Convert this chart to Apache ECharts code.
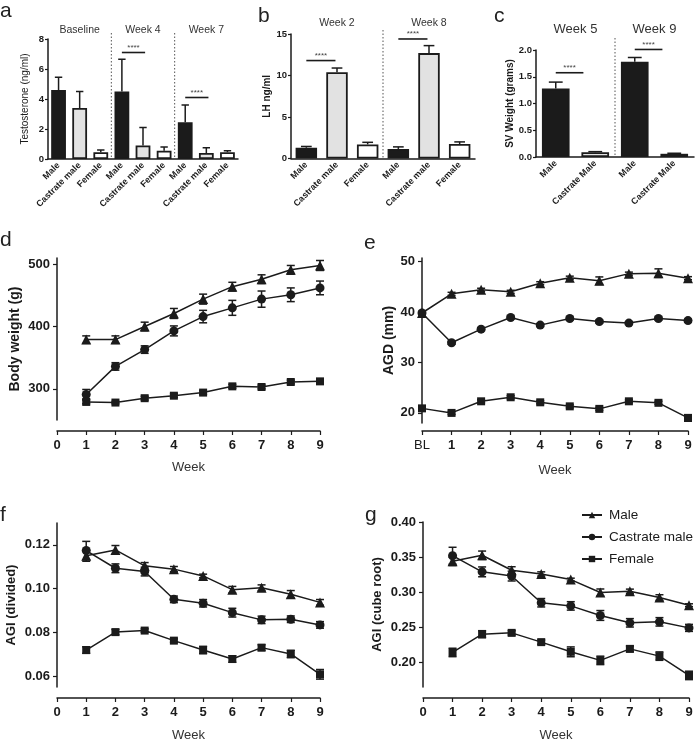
<!DOCTYPE html>
<html lang="en">
  <head>
    <meta charset="UTF-8" />
    <title>Testosterone, LH, SV weight, body weight, AGD and AGI</title>
    <script src="https://cdn.jsdelivr.net/npm/echarts@6/dist/echarts.min.js"></script>
    <style>
      html, body { margin: 0; padding: 0; background: #fff; }
      #chart { width: 700px; height: 745px; }
    </style>
  </head>
  <body>
    <div id="chart"></div>

  <script>
    const FONT = '"Liberation Sans", Arial, sans-serif';
    const INK = '#1b1b1b';

    // a - testosterone
    const testoCats = ['Male', 'Castrate male', 'Female', 'Male', 'Castrate male', 'Female', 'Male', 'Castrate male', 'Female'];
    const testoMean = [4.6, 3.4, 0.45, 4.5, 0.9, 0.55, 2.45, 0.4, 0.45];
    const testoErr = [0.85, 1.1, 0.15, 2.15, 1.2, 0.25, 1.15, 0.35, 0.1];
    const testoGroups = ['Baseline', 'Week 4', 'Week 7'];
    const testoSig = [[3, 7.1, 4], [6, 4.1, 7]];

    // b - LH
    const lhCats = ['Male', 'Castrate male', 'Female', 'Male', 'Castrate male', 'Female'];
    const lhMean = [1.3, 10.4, 1.7, 1.15, 12.7, 1.75];
    const lhErr = [0.15, 0.5, 0.25, 0.25, 0.9, 0.25];
    const lhGroups = ['Week 2', 'Week 8'];
    const lhSig = [[0, 11.8, 1], [3, 14.4, 4]];

    // c - seminal vesicle weight
    const svCats = ['Male', 'Castrate Male', 'Male', 'Castrate Male'];
    const svMean = [1.28, 0.09, 1.78, 0.06];
    const svErr = [0.12, 0.01, 0.08, 0.01];
    const svGroups = ['Week 5', 'Week 9'];
    const svSig = [[0, 1.575, 1], [2, 2.01, 3]];

    // d - body weight
    const weeks = [1, 2, 3, 4, 5, 6, 7, 8, 9];
    const bwMale = [379, 379, 400, 421, 444, 464, 476, 491, 498];
    const bwMaleErr = [6, 6, 7, 8, 8, 7, 7, 7, 8];
    const bwCast = [291, 336, 363, 393, 416, 430, 444, 451, 462];
    const bwCastErr = [8, 6, 6, 8, 10, 12, 13, 11, 11];
    const bwFem = [279, 278, 285, 289, 294, 304, 303, 311, 312];
    const bwFemErr = [3, 2, 3, 3, 3, 3, 3, 3, 3];

    // e - AGD (BL = 0)
    const agdWeeks = [0, 1, 2, 3, 4, 5, 6, 7, 8, 9];
    const agdMale = [39.8, 43.6, 44.4, 44.0, 45.7, 46.8, 46.2, 47.6, 47.7, 46.7];
    const agdMaleErr = [0.3, 0.3, 0.3, 0.3, 0.3, 0.3, 0.75, 0.3, 0.85, 0.3];
    const agdCast = [39.8, 33.9, 36.6, 38.9, 37.4, 38.7, 38.1, 37.8, 38.7, 38.3];
    const agdCastErr = [0.3, 0.3, 0.3, 0.3, 0.3, 0.3, 0.3, 0.3, 0.3, 0.3];
    const agdFem = [20.9, 20.0, 22.3, 23.1, 22.1, 21.3, 20.8, 22.3, 22.0, 19.0];
    const agdFemErr = [0.3, 0.3, 0.3, 0.3, 0.3, 0.3, 0.3, 0.3, 0.3, 0.65];

    // f - AGI divided
    const agiMale = [0.115, 0.1177, 0.1104, 0.1089, 0.1058, 0.0995, 0.1004, 0.0974, 0.0937];
    const agiMaleErr = [0.0025, 0.002, 0.0015, 0.0012, 0.0008, 0.0015, 0.0013, 0.0017, 0.0013];
    const agiCast = [0.1174, 0.1093, 0.1078, 0.0951, 0.0933, 0.089, 0.0857, 0.086, 0.0834];
    const agiCastErr = [0.0042, 0.002, 0.002, 0.0015, 0.0017, 0.002, 0.0017, 0.0015, 0.0015];
    const agiFem = [0.0719, 0.0801, 0.0808, 0.0762, 0.0719, 0.0678, 0.073, 0.0701, 0.0608];
    const agiFemErr = [0.0015, 0.0012, 0.0008, 0.0008, 0.0017, 0.0015, 0.0013, 0.0017, 0.0022];

    // g - AGI cube root
    const cubeMale = [0.344, 0.3526, 0.3313, 0.326, 0.318, 0.2996, 0.3014, 0.2924, 0.2815];
    const cubeMaleErr = [0.006, 0.006, 0.005, 0.003, 0.002, 0.005, 0.003, 0.004, 0.002];
    const cubeCast = [0.352, 0.329, 0.323, 0.285, 0.2805, 0.2669, 0.2564, 0.2578, 0.2492];
    const cubeCastErr = [0.012, 0.007, 0.007, 0.006, 0.006, 0.007, 0.006, 0.006, 0.005];
    const cubeFem = [0.2142, 0.2402, 0.2421, 0.2289, 0.2151, 0.2029, 0.2193, 0.209, 0.1815];
    const cubeFemErr = [0.006, 0.005, 0.003, 0.003, 0.007, 0.006, 0.004, 0.006, 0.006];

    const groupNames = ['Male', 'Castrate male', 'Female'];
    const groupSymbols = ['triangle', 'circle', 'rect'];
    const groupSymbolSize = [10, 9, 8];

    const grids = [], xAxes = [], yAxes = [], series = [];

    function line(x1, y1, x2, y2, extra) {
      return { type: 'line', shape: { x1, y1, x2, y2 }, style: Object.assign({ stroke: INK, lineWidth: 1.5 }, extra || {}) };
    }

    function barPanel(p) {
      const g = grids.length;
      grids.push({ left: p.left, top: p.top, width: p.width, height: p.height });
      xAxes.push({
        gridIndex: g, type: 'category', data: p.cats,
        axisLine: { lineStyle: { color: INK, width: 1.5 } },
        axisTick: { alignWithLabel: true, length: 3, lineStyle: { color: INK, width: 1.2 } },
        axisLabel: { interval: 0, rotate: 45, fontSize: 9, fontWeight: 'bold', color: INK, fontFamily: FONT, margin: 5 }
      });
      yAxes.push({
        gridIndex: g, type: 'value', min: 0, max: p.max, interval: p.step,
        splitLine: { show: false },
        axisLine: { show: true, lineStyle: { color: INK, width: 1.5 } },
        axisTick: { show: true, length: 3, lineStyle: { color: INK, width: 1.2 } },
        axisLabel: { fontSize: 9.5, fontWeight: 'bold', color: INK, fontFamily: FONT, margin: 4, formatter: p.fmt },
        name: p.yName, nameLocation: 'middle', nameGap: p.nameGap,
        nameTextStyle: { fontSize: p.nameSize, fontWeight: p.nameWeight, color: INK, fontFamily: FONT }
      });
      series.push({
        type: 'bar', xAxisIndex: g, yAxisIndex: g, barWidth: '70%', z: 2,
        data: p.mean.map((v, i) => ({ value: v, itemStyle: { color: p.fills[i % p.size] } })),
        itemStyle: { borderColor: INK, borderWidth: 1.8 }
      });
      // upward error bars
      series.push({
        type: 'custom', xAxisIndex: g, yAxisIndex: g, z: 1, clip: false,
        encode: { x: 0, y: 1 },
        data: p.mean.map((v, i) => [i, v, p.err[i]]),
        renderItem: (params, api) => {
          const i = api.value(0), v = api.value(1), e = api.value(2);
          const a = api.coord([i, v]), b = api.coord([i, v + e]);
          const w = api.size([1, 0])[0] * 0.7 * 0.25;
          return { type: 'group', children: [line(a[0], a[1], b[0], b[1]), line(b[0] - w, b[1], b[0] + w, b[1])] };
        }
      });
      // group headers and dotted separators
      series.push({
        type: 'custom', xAxisIndex: g, yAxisIndex: g, z: 3, clip: false,
        encode: { x: 0, y: 1 },
        data: p.groups.map((name, k) => [k * p.size, 0, k]),
        renderItem: (params, api) => {
          const s = api.value(0), k = api.value(2);
          const cs = params.coordSys;
          const x1 = api.coord([s, 0])[0], x2 = api.coord([s + p.size - 1, 0])[0];
          const kids = [{
            type: 'text',
            style: { text: p.groups[k], x: (x1 + x2) / 2, y: cs.y - p.headGap, align: 'center', verticalAlign: 'bottom',
              fontSize: p.headSize, fill: '#333', fontFamily: FONT }
          }];
          if (s > 0) {
            const xp = (api.coord([s - 1, 0])[0] + x1) / 2;
            kids.push(line(xp, cs.y - p.sepExtra, xp, cs.y + cs.height, { stroke: '#555', lineWidth: 1, lineDash: [1.5, 2] }));
          }
          return { type: 'group', children: kids };
        }
      });
      // significance bars
      series.push({
        type: 'custom', xAxisIndex: g, yAxisIndex: g, z: 3, clip: false,
        encode: { x: 0, y: 1 },
        data: p.sig,
        renderItem: (params, api) => {
          const a = api.coord([api.value(0), api.value(1)]);
          const b = api.coord([api.value(2), api.value(1)]);
          const x2 = a[0] + (b[0] - a[0]) * p.sigSpan;
          return { type: 'group', children: [
            line(a[0], a[1], x2, a[1], { lineWidth: 1.6 }),
            { type: 'text', style: { text: '****', x: (a[0] + x2) / 2, y: a[1] - 1, align: 'center', verticalAlign: 'bottom',
              fontSize: 8, fill: '#444', fontFamily: FONT } }
          ] };
        }
      });
    }

    function linePanel(p) {
      const g = grids.length;
      grids.push({ left: p.left, top: p.top, width: p.width, height: p.height });
      xAxes.push({
        gridIndex: g, type: 'value', min: 0, max: 9, interval: 1, offset: p.xOffset,
        splitLine: { show: false },
        axisLine: { show: true, onZero: false, lineStyle: { color: INK, width: 1.5 } },
        axisTick: { show: true, length: 4, lineStyle: { color: INK, width: 1.2 } },
        axisLabel: {
          fontSize: 13, fontWeight: 'bold', color: INK, fontFamily: FONT, margin: 8,
          formatter: p.xFmt || (v => String(v)),
          rich: { n: { fontSize: 13, fontWeight: 'normal', color: INK, fontFamily: FONT } }
        },
        name: 'Week', nameLocation: 'middle', nameGap: p.weekGap,
        nameTextStyle: { fontSize: 13, color: '#333', fontFamily: FONT }
      });
      yAxes.push({
        gridIndex: g, type: 'value', min: p.min, max: p.max,
        splitLine: { show: false },
        axisLine: { show: true, onZero: false, lineStyle: { color: INK, width: 1.5 } },
        axisTick: { show: true, length: 4, customValues: p.ticks, lineStyle: { color: INK, width: 1.2 } },
        axisLabel: { fontSize: 13, fontWeight: 'bold', color: INK, fontFamily: FONT, margin: 7, customValues: p.ticks, formatter: p.fmt },
        name: p.yName, nameLocation: 'middle', nameGap: p.nameGap,
        nameTextStyle: { fontSize: p.nameSize, fontWeight: 'bold', color: INK, fontFamily: FONT }
      });
      p.lines.forEach((ln, k) => {
        series.push({
          type: 'custom', xAxisIndex: g, yAxisIndex: g, z: 1, clip: false,
          encode: { x: 0, y: 1 },
          data: p.x.map((x, i) => [x, ln.mean[i], ln.err[i]]),
          renderItem: (params, api) => {
            const x = api.value(0), y = api.value(1), e = api.value(2);
            const t = api.coord([x, y + e]), b = api.coord([x, y - e]);
            const w = 4;
            return { type: 'group', children: [
              line(t[0], t[1], b[0], b[1]),
              line(t[0] - w, t[1], t[0] + w, t[1]),
              line(b[0] - w, b[1], b[0] + w, b[1])
            ] };
          }
        });
        series.push({
          type: 'line', name: groupNames[k], xAxisIndex: g, yAxisIndex: g, z: 2,
          data: p.x.map((x, i) => [x, ln.mean[i]]),
          symbol: groupSymbols[k], symbolSize: groupSymbolSize[k], showSymbol: true,
          lineStyle: { color: INK, width: 1.5 },
          itemStyle: { color: INK, borderWidth: 0 },
          emphasis: { disabled: true }
        });
      });
    }

    barPanel({
      left: 48, top: 39, width: 190, height: 120, max: 8, step: 2,
      cats: testoCats, mean: testoMean, err: testoErr, groups: testoGroups, sig: testoSig, size: 3,
      fills: [INK, '#e2e2e2', '#ffffff'], yName: 'Testosterone (ng/ml)', nameGap: 18, nameSize: 10, nameWeight: 'normal',
      headGap: 3, headSize: 10.5, sepExtra: 6, sigSpan: 1.1
    });
    barPanel({
      left: 291, top: 34, width: 184, height: 124.5, max: 15, step: 5,
      cats: lhCats, mean: lhMean, err: lhErr, groups: lhGroups, sig: lhSig, size: 3,
      fills: [INK, '#e2e2e2', '#ffffff'], yName: 'LH ng/ml', nameGap: 15, nameSize: 10, nameWeight: 'bold',
      headGap: 5, headSize: 10.5, sepExtra: 4, sigSpan: 0.95
    });
    barPanel({
      left: 536, top: 50, width: 158, height: 107, max: 2, step: 0.5,
      cats: svCats, mean: svMean, err: svErr, groups: svGroups, sig: svSig, size: 2,
      fills: [INK, '#e2e2e2'], yName: 'SV Weight (grams)', nameGap: 18, nameSize: 10, nameWeight: 'bold',
      headGap: 14, headSize: 13, sepExtra: 12, sigSpan: 0.7, fmt: v => v.toFixed(1)
    });

    linePanel({
      left: 57, top: 258, width: 263, height: 162, min: 250, max: 510, ticks: [300, 400, 500],
      xOffset: 11, weekGap: 30, yName: 'Body weight (g)', nameGap: 35, nameSize: 14,
      x: weeks, lines: [
        { mean: bwMale, err: bwMaleErr }, { mean: bwCast, err: bwCastErr }, { mean: bwFem, err: bwFemErr }
      ]
    });
    linePanel({
      left: 422, top: 258, width: 266, height: 165, min: 18, max: 50.7, ticks: [20, 30, 40, 50],
      xOffset: 8, weekGap: 33, yName: 'AGD (mm)', nameGap: 25, nameSize: 14,
      xFmt: v => (v === 0 ? '{n|BL}' : String(v)),
      x: agdWeeks, lines: [
        { mean: agdMale, err: agdMaleErr }, { mean: agdCast, err: agdCastErr }, { mean: agdFem, err: agdFemErr }
      ]
    });
    linePanel({
      left: 57, top: 523, width: 263, height: 164, min: 0.055, max: 0.13, ticks: [0.06, 0.08, 0.10, 0.12],
      xOffset: 11, weekGap: 31, yName: 'AGI (divided)', nameGap: 39, nameSize: 13, fmt: v => v.toFixed(2),
      x: weeks, lines: [
        { mean: agiMale, err: agiMaleErr }, { mean: agiCast, err: agiCastErr }, { mean: agiFem, err: agiFemErr }
      ]
    });
    linePanel({
      left: 423, top: 522, width: 266, height: 165, min: 0.165, max: 0.40, ticks: [0.20, 0.25, 0.30, 0.35, 0.40],
      xOffset: 11, weekGap: 31, yName: 'AGI (cube root)', nameGap: 39, nameSize: 13, fmt: v => v.toFixed(2),
      x: weeks, lines: [
        { mean: cubeMale, err: cubeMaleErr }, { mean: cubeCast, err: cubeCastErr }, { mean: cubeFem, err: cubeFemErr }
      ]
    });

    const letters = [['a', 0, 1], ['b', 258, 6], ['c', 494, 6], ['d', 0, 230], ['e', 364, 233], ['f', 0, 505], ['g', 365, 505]];

    const myChart = echarts.init(document.getElementById('chart'));
    myChart.setOption({
      animation: false,
      backgroundColor: '#fff',
      textStyle: { fontFamily: FONT },
      grid: grids,
      xAxis: xAxes,
      yAxis: yAxes,
      legend: {
        data: groupNames, orient: 'vertical', left: 576, top: 503,
        itemWidth: 20, itemHeight: 8, itemGap: 8, selectedMode: false,
        textStyle: { fontSize: 13.5, color: INK, fontFamily: FONT, padding: [0, 0, 0, 2] }
      },
      graphic: letters.map(([t, x, y]) => ({
        type: 'text', left: x, top: y,
        style: { text: t, fontSize: 21, fill: '#222', fontFamily: FONT }
      })),
      series: series
    });
  </script>
  </body>
</html>
